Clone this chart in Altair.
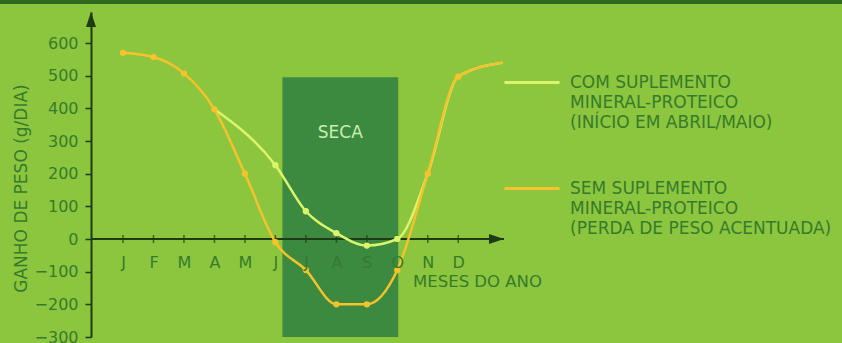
import json
import altair as alt
import pandas as pd

# ---------------- data ----------------
months = ["J", "F", "M", "A", "M", "J", "J", "A", "S", "O", "N", "D"]
month_idx = list(range(12))

com_label = "COM SUPLEMENTO|MINERAL-PROTEICO|(INÍCIO EM ABRIL/MAIO)"
sem_label = "SEM SUPLEMENTO|MINERAL-PROTEICO|(PERDA DE PESO ACENTUADA)"

sem_x = [0, 1, 2, 3, 4, 5, 6, 7, 8, 9, 10, 11, 12.45]
sem_y = [570, 557, 507, 397, 200, -10, -95, -200, -200, -95, 200, 497, 540]
sem_point_x = [0, 1, 2, 3, 4, 5, 6, 7, 8, 9, 10, 11]

com_x = [3, 5, 6, 7, 8, 9, 10, 11, 12.45]
com_y = [397, 226, 85, 18, -20, 0, 200, 497, 540]
com_point_x = [5, 6, 7, 8, 9]

seca_start, seca_end = 5.23, 9.03
seca_top, seca_bottom = 495, -300
seca_label = "SECA"
seca_label_y = 325

y_ticks = [-300, -200, -100, 0, 100, 200, 300, 400, 500, 600]
x_domain = [-1.05, 12.5]
y_domain = [-300, 695]

# ---------------- style ----------------
W, H = 413, 325
PAD_L, PAD_T = 91, 12
FONT = "DejaVu Sans"
BG = "#8cc63e"
SECA_FILL = "#3b8a40"
SECA_TEXT = "#c9eeb0"
ORANGE = "#f8c22c"
LIME = "#dcf46c"
TEXT = "#367b2b"
AXIS = "#1e3b16"

px_x = (x_domain[1] - x_domain[0]) / W
px_y = (y_domain[1] - y_domain[0]) / H

lines_df = pd.DataFrame(
    [{"serie": com_label, "idx": x, "val": y} for x, y in zip(com_x, com_y)]
    + [{"serie": sem_label, "idx": x, "val": y} for x, y in zip(sem_x, sem_y)]
)
sem_map = dict(zip(sem_x, sem_y))
com_map = dict(zip(com_x, com_y))
points_df = pd.DataFrame(
    [{"serie": com_label, "idx": x, "val": com_map[x]} for x in com_point_x]
    + [{"serie": sem_label, "idx": x, "val": sem_map[x]} for x in sem_point_x]
)
seca_df = pd.DataFrame([{"x1": seca_start, "x2": seca_end, "y1": seca_bottom,
                         "y2": seca_top, "label": seca_label,
                         "xm": (seca_start + seca_end) / 2, "ym": seca_label_y}])
ticks_df = pd.DataFrame({"idx": month_idx, "val": [0] * 12})
axis_df = pd.DataFrame([{"x1": x_domain[0], "x2": x_domain[1], "y": 0}])
arrows_df = pd.DataFrame([
    {"x": x_domain[0], "y": y_domain[1] - 7.5 * px_y, "shape": "M0,-1L0.67,1L-0.67,1Z"},
    {"x": x_domain[1] - 7.5 * px_x, "y": 0, "shape": "M1,0L-1,-0.67L-1,0.67Z"},
])

xs = alt.Scale(domain=x_domain, nice=False, zero=False)
ys = alt.Scale(domain=y_domain, nice=False, zero=False)
color_scale = alt.Scale(domain=[com_label, sem_label], range=[LIME, ORANGE])

x_axis = alt.Axis(
    values=month_idx,
    labelExpr=f"{json.dumps(months)}[datum.value]",
    domain=False, ticks=False, tickSize=0, grid=False, zindex=1,
    labelPadding=23, labelBaseline="middle",
    labelFont=FONT, labelFontSize=16, labelColor=TEXT,
    offset=-round(-y_domain[0] / px_y),
    title="MESES DO ANO", titleFont=FONT, titleFontSize=16.5,
    titleFontWeight="normal", titleColor=TEXT,
    titleX=386, titleY=42, titleAlign="center", titleBaseline="middle",
)
y_axis = alt.Axis(
    values=y_ticks, grid=False,
    domainColor=AXIS, domainWidth=2, tickColor=AXIS, tickWidth=1.5, tickSize=6,
    labelPadding=7, labelFont=FONT, labelFontSize=16, labelColor=TEXT,
    title="GANHO DE PESO (g/DIA)", titleFont=FONT, titleFontSize=17,
    titleFontWeight="normal", titleColor=TEXT,
    titleX=-70, titleY=176, titleAngle=-90, titleAlign="center", titleBaseline="middle",
)


def X(field):
    return alt.X(field, scale=xs, axis=x_axis)


def Y(field):
    return alt.Y(field, scale=ys, axis=y_axis)


band = alt.Chart(axis_df).mark_rule(color="#2d6a1f", strokeWidth=4).encode(
    x=alt.value(-PAD_L), x2=alt.value(842 - PAD_L), y=alt.value(-PAD_T + 2)
)

seca = alt.Chart(seca_df).mark_rect(color=SECA_FILL).encode(
    x=X("x1:Q"), x2="x2:Q", y=Y("y1:Q"), y2="y2:Q",
)
seca_txt = alt.Chart(seca_df).mark_text(font=FONT, fontSize=17, color=SECA_TEXT).encode(
    x=X("xm:Q"), y=Y("ym:Q"), text="label:N",
)
x_line = alt.Chart(axis_df).mark_rule(color=AXIS, strokeWidth=2).encode(
    x=X("x1:Q"), x2="x2:Q", y=Y("y:Q"),
)
x_ticks = alt.Chart(ticks_df).mark_tick(orient="vertical", size=8, thickness=1.5, color=AXIS).encode(
    x=X("idx:Q"), y=Y("val:Q"),
)
legend = alt.Legend(
    title=None, orient="none", legendX=412, legendY=41.5, padding=0,
    symbolType="stroke", symbolSize=3025, symbolStrokeWidth=3,
    labelExpr="split(datum.label, '|')", labelFont=FONT, labelFontSize=17,
    labelColor=TEXT, labelLimit=0, labelOffset=9, rowPadding=29,
    labelBaseline="middle",
)
lines = alt.Chart(lines_df).mark_line(interpolate="monotone", strokeWidth=2.5).encode(
    x=X("idx:Q"), y=Y("val:Q"),
    color=alt.Color("serie:N", scale=color_scale, legend=legend),
    order="idx:Q",
)
points = alt.Chart(points_df).mark_circle(size=40, opacity=1).encode(
    x=X("idx:Q"), y=Y("val:Q"),
    color=alt.Color("serie:N", scale=color_scale, legend=legend),
)
arrows = alt.Chart(arrows_df).mark_point(filled=True, size=225, color=AXIS, opacity=1).encode(
    x=X("x:Q"), y=Y("y:Q"),
    shape=alt.Shape("shape:N", scale=None),
)

chart = alt.layer(band, seca, seca_txt, x_line, x_ticks, lines, points, arrows).properties(
    width=W, height=H,
    autosize=alt.AutoSizeParams(type="none"),
    padding={"left": PAD_L, "top": PAD_T, "right": 842 - PAD_L - W, "bottom": 343 - PAD_T - H},
    background=BG,
).configure(style={"guide-label": {"lineHeight": 20}}).configure_view(stroke=None)

chart.save("out.html", embed_options={"renderer": "svg", "actions": False})
